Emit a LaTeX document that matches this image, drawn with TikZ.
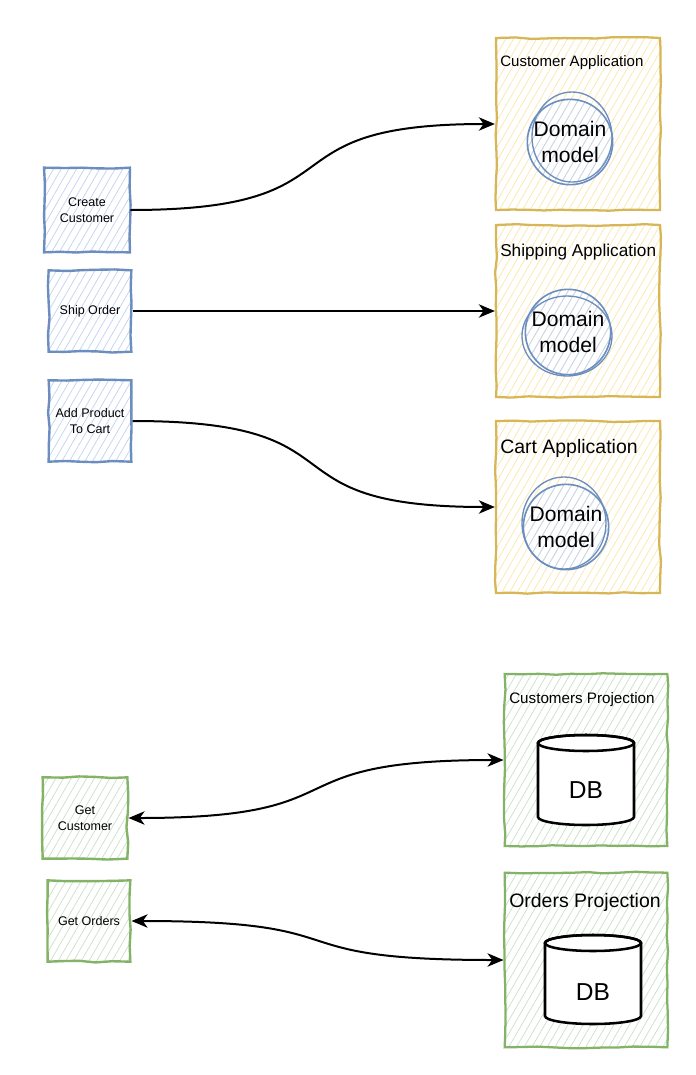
\documentclass[tikz,border=0pt]{standalone}
\usepackage{fontspec}
\setmainfont{Liberation Sans}
\usetikzlibrary{arrows.meta,patterns.meta,decorations.pathmorphing}

\definecolor{cmdblue}{HTML}{6C8EBF}
\definecolor{cmdhatch}{HTML}{C3D6F4}
\definecolor{appyellow}{HTML}{D6B656}
\definecolor{apphatch}{HTML}{FBE8B0}
\definecolor{projgreen}{HTML}{82B366}
\definecolor{projhatch}{HTML}{CDE3CA}

\tikzset{
  sketchy/.style={decorate, decoration={random steps, segment length=12pt, amplitude=0.7pt}},
  hatch/.style={pattern={Lines[angle=60,distance=5pt,line width=0.6pt]}, pattern color=#1},
  cmdbox/.style={draw=cmdblue, line width=1.8pt, hatch=cmdhatch, sketchy, minimum width=62pt, minimum height=61pt, align=center, inner sep=1pt, font=\fontsize{9.4}{11.6}\selectfont},
  querybox/.style={cmdbox, draw=projgreen, hatch=projhatch},
  appbox/.style={draw=appyellow, line width=1.7pt, hatch=apphatch, sketchy, minimum width=123pt, minimum height=129pt, inner sep=0pt},
  projbox/.style={appbox, draw=projgreen, hatch=projhatch, minimum width=122pt},
  boxlabel/.style={anchor=west, inner sep=0pt},
  domainmodel/.style={circle, draw=cmdblue, line width=1.2pt, hatch=cmdhatch, minimum size=64pt, inner sep=0pt, align=center, font=\fontsize{15.8}{19}\selectfont},
  dbline/.style={line width=1.9pt, fill=white},
  flow/.style={line width=1.5pt, -{Stealth[length=12pt,width=10pt,inset=3.5pt]}},
  bothflow/.style={flow, {Stealth[length=12pt,width=10pt,inset=3.5pt]}-{Stealth[length=12pt,width=10pt,inset=3.5pt]}}
}

\begin{document}
\begin{tikzpicture}[x=0.75pt, y=-0.75pt]
\useasboundingbox (0,0) rectangle (696,1075);

% commands
\node[cmdbox, minimum width=64.5pt, minimum height=63.5pt] (create) at (87,210) {Create\\Customer};
\node[cmdbox] (ship) at (90,311) {Ship Order};
\node[cmdbox] (addcart) at (90,421) {Add Product\\To Cart};

% applications
\node[appbox] (custapp) at (578,124) {};
\node[appbox] (shipapp) at (578,311) {};
\node[appbox] (cartapp) at (578,507) {};
\node[boxlabel, font=\fontsize{11.3}{13}\selectfont] (custlbl) at (500,63) {Customer Application};
\node[boxlabel, font=\fontsize{12.9}{15}\selectfont] (shiplbl) at (500,252) {Shipping Application};
\node[boxlabel, font=\fontsize{14.6}{17}\selectfont] (cartlbl) at (500,448) {Cart Application};

\node[domainmodel] (custdom) at (570,142) {Domain\\model};
\node[domainmodel] (shipdom) at (568,332) {Domain\\model};
\node[domainmodel] (cartdom) at (566,527) {Domain\\model};
\draw[cmdblue, line width=1pt] (572,137) ellipse[x radius=40, y radius=45];
\draw[cmdblue, line width=1pt] (567,336) ellipse[x radius=45, y radius=40];
\draw[cmdblue, line width=1pt] (564,523) ellipse[x radius=42, y radius=46];

% queries
\node[querybox, minimum width=63.5pt] (getcust) at (85,818) {Get\\Customer};
\node[querybox] (getord) at (89,921) {Get Orders};

% projections
\node[projbox] (custproj) at (586,760) {};
\node[projbox, minimum height=131pt] (ordproj) at (586,960) {};
\node[boxlabel, font=\fontsize{11.4}{13}\selectfont] (custplbl) at (509,700) {Customers Projection};
\node[boxlabel, font=\fontsize{14.6}{17}\selectfont] (ordplbl) at (509,902) {Orders Projection};

\draw[dbline] (538,743) -- (538,817) arc[start angle=180, end angle=0, x radius=48, y radius=8]
  -- (634,743) arc[start angle=0, end angle=-180, x radius=48, y radius=8] -- cycle;
\draw[line width=1.9pt] (586,743) ellipse[x radius=48, y radius=8];
\node[font=\fontsize{18.4}{22}\selectfont] (custdb) at (586,790) {DB};

\draw[dbline] (545,943) -- (545,1016) arc[start angle=180, end angle=0, x radius=48, y radius=8]
  -- (641,943) arc[start angle=0, end angle=-180, x radius=48, y radius=8] -- cycle;
\draw[line width=1.9pt] (593,943) ellipse[x radius=48, y radius=8];
\node[font=\fontsize{18.4}{22}\selectfont] (orddb) at (593,992) {DB};

% connectors
\draw[flow] (create.east) .. controls +(240,0) and +(-240,0) .. (custapp.west);
\draw[flow] (ship.east) -- (shipapp.west);
\draw[flow] (addcart.east) .. controls +(240,0) and +(-240,0) .. (cartapp.west);
\draw[bothflow] (getcust.east) .. controls +(240,0) and +(-240,0) .. (custproj.west);
\draw[bothflow] (getord.east) .. controls +(240,0) and +(-240,0) .. (ordproj.west);

\end{tikzpicture}
\end{document}
